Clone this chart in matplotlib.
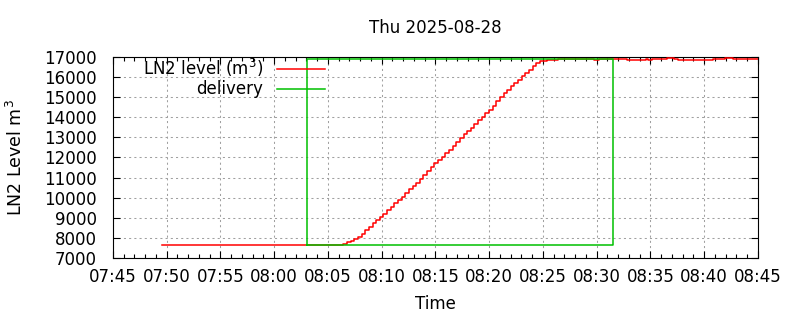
import numpy as np
import pandas as pd
import matplotlib
matplotlib.use('Agg')
import matplotlib.pyplot as plt
import matplotlib.dates as mdates

day = '2025-08-28'

# LN2 level before the delivery (flat)
pre_times = ['07:49:32']
pre_levels = [7630]

# filling ramp, one reading about every 20 s
rise_start = '08:05:26'
rise_step = '20300ms'
rise_levels = [7640, 7640, 7640, 7705, 7770, 7820, 7920, 8054, 8203, 8367,
               8551, 8715, 8879, 9048, 9197, 9361, 9525, 9709, 9873, 10022,
               10206, 10405, 10560, 10740, 10940, 11150, 11350, 11530, 11700, 11880,
               12010, 12210, 12390, 12590, 12790, 12975, 13155, 13335, 13450, 13660,
               13850, 14020, 14220, 14380, 14580, 14790, 14990, 15210, 15375, 15570,
               15705, 15870, 16070, 16200, 16370, 16535, 16700, 16780, 16815, 16865,
               16865, 16865]

# after the tank is full
tail_times = ['08:26:26', '08:29:46', '08:30:11', '08:32:50', '08:34:35', '08:34:47',
              '08:35:10', '08:36:30', '08:37:10', '08:37:35', '08:40:50', '08:41:20',
              '08:41:56', '08:42:39', '08:45:00']
tail_levels = [16900, 16850, 16900, 16850, 16900, 16850,
               16900, 16950, 16900, 16850, 16880, 16900,
               16950, 16900, 16900]

# delivery window
delivery_times = ['08:03:04', '08:03:04', '08:31:32', '08:31:32', '08:03:04']
delivery_levels = [7640, 16900, 16900, 7640, 7640]

y_ticks = list(range(7000, 17001, 1000))


def ts(hms):
    return pd.to_datetime([f'{day} {t}' for t in hms])


rise_times = pd.date_range(f'{day} {rise_start}', periods=len(rise_levels), freq=rise_step)
level_times = ts(pre_times).append(rise_times).append(ts(tail_times))
levels = pre_levels + rise_levels + tail_levels

fs = 12

fig = plt.figure(figsize=(8, 3.2), dpi=100)
ax = fig.add_axes([0.141, 0.194, 0.8065, 0.628])

ax.step(level_times, levels, where='post', color='red', lw=1.1, label='LN2 level (m$^3$)', zorder=3)
ax.plot(ts(delivery_times), delivery_levels, color='#00c000', lw=1.1, label='delivery', zorder=4)

ax.set_xlim(pd.Timestamp(f'{day} 07:45'), pd.Timestamp(f'{day} 08:45'))
ax.set_ylim(7000, 17000)
ax.set_yticks(y_ticks)

ax.xaxis.set_major_locator(mdates.MinuteLocator(byminute=range(0, 60, 5)))
ax.xaxis.set_minor_locator(mdates.MinuteLocator())
ax.xaxis.set_major_formatter(mdates.DateFormatter('%H:%M'))

ax.tick_params(which='both', direction='in', top=True, right=True, colors='black')
ax.tick_params(which='major', length=5, width=0.8)
ax.tick_params(which='minor', length=3, width=0.8)
ax.tick_params(axis='x', which='major', pad=7.5, labelsize=fs)
ax.tick_params(axis='y', which='major', pad=11.5, labelsize=fs)

ax.grid(True, which='major', color='#a0a0a0', ls=(0, (2, 3)), lw=0.75)
for s in ax.spines.values():
    s.set_linewidth(0.8)

fig.text(0.544, 1 - 28 / 320, 'Thu 2025-08-28', ha='center', va='center', fontsize=fs)
ax.set_xlabel('Time', fontsize=fs, labelpad=6)
ax.set_ylabel('LN2 Level m$^3$', fontsize=12.5, labelpad=13)

ax.legend(loc='upper right', bbox_to_anchor=(325 / 800, 1 - 57 / 320), bbox_transform=fig.transFigure,
          frameon=False, markerfirst=False, fontsize=fs, handlelength=2.9, handletextpad=0.8,
          labelspacing=0.08, borderpad=0, borderaxespad=0)

plt.savefig('out.png', dpi=100)
plt.close()
